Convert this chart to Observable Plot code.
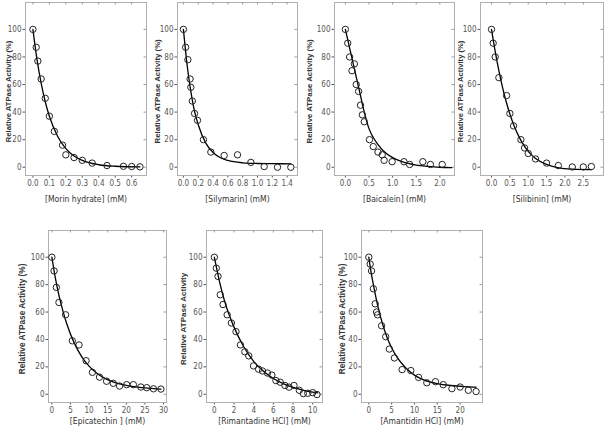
<!DOCTYPE html>
<html>
<head>
<meta charset="utf-8">
<script src="https://cdn.jsdelivr.net/npm/d3@7"></script>
<script src="https://cdn.jsdelivr.net/npm/@observablehq/plot@0.6"></script>
<style>
  html, body { margin: 0; padding: 0; background: white; }
  #chart { position: relative; width: 605px; height: 434px; overflow: hidden; background: white; }
</style>
</head>
<body>
<div id="chart"></div>
<script>
// ---------- data ----------
const yTicks = [0, 20, 40, 60, 80, 100];

const morinX = [0, 0.02, 0.03, 0.05, 0.075, 0.1, 0.13, 0.18, 0.2, 0.25, 0.3, 0.36, 0.45, 0.55, 0.6, 0.65];
const morinY = [100, 87, 77, 64, 50, 37, 26, 16, 9, 7, 5, 3, 1.2, 0.7, 0.5, 0.3];
const morinFitX = [0, 0.025, 0.05, 0.075, 0.1, 0.15, 0.2, 0.25, 0.3, 0.4, 0.5, 0.65];
const morinFitY = [100, 78, 61, 47.5, 37, 22.5, 13.5, 8.2, 5, 1.8, 0.7, 0.2];
const morinTicks = [0, 0.1, 0.2, 0.3, 0.4, 0.5, 0.6];

const silyX = [0, 0.03, 0.06, 0.09, 0.1, 0.12, 0.15, 0.19, 0.27, 0.37, 0.55, 0.73, 0.91, 1.09, 1.27, 1.45];
const silyY = [100, 87, 78, 64, 58, 48, 39, 34, 20, 11, 8.5, 9, 3.5, 0.5, 0, 0];
const silyFitX = [0, 0.05, 0.1, 0.15, 0.2, 0.3, 0.4, 0.5, 0.6, 0.8, 1.0, 1.2, 1.45];
const silyFitY = [100, 74, 55, 40.5, 30.8, 17.7, 10.7, 6.9, 4.9, 3.2, 2.7, 2.55, 2.5];
const silyTicks = [0, 0.2, 0.4, 0.6, 0.8, 1.0, 1.2, 1.4];

const baicX = [0, 0.05, 0.09, 0.14, 0.19, 0.23, 0.28, 0.32, 0.36, 0.4, 0.51, 0.59, 0.69, 0.78, 0.82, 0.99, 1.24, 1.36, 1.64, 1.8, 2.05];
const baicY = [100, 90, 80, 70, 75, 60, 55, 45, 38, 33, 20, 15, 11, 9, 5, 4, 4, 2, 4, 2, 2];
const baicFitX = [0, 0.1, 0.2, 0.3, 0.4, 0.5, 0.6, 0.7, 0.8, 1.0, 1.2, 1.5, 2.0, 2.25];
const baicFitY = [100, 85, 70, 55, 40, 28, 21, 16, 12, 7, 4, 1.5, 0, -0.3];
const baicTicks = [0, 0.5, 1.0, 1.5, 2.0];

const silibX = [0, 0.045, 0.1, 0.2, 0.41, 0.5, 0.6, 0.8, 0.9, 1.0, 1.2, 1.5, 1.82, 2.2, 2.5, 2.72];
const silibY = [100, 90, 80, 65, 52, 39, 30, 20, 14, 10, 6, 3, 1.2, 0.2, 0.2, 0.5];
const silibFitX = [0, 0.1, 0.2, 0.3, 0.4, 0.6, 0.8, 1.0, 1.2, 1.5, 1.8, 2.2, 2.72];
const silibFitY = [100, 84, 70, 58, 47.5, 31, 19.5, 11.5, 6.3, 2, -0.3, -1.4, -1.7];
const silibTicks = [0, 0.5, 1.0, 1.5, 2.0, 2.5];

const epiX = [0, 0.6, 1.2, 1.9, 3.7, 5.5, 7.3, 9.2, 10.9, 12.8, 14.7, 16.5, 18.2, 20.1, 21.9, 23.9, 25.5, 27.3, 29.3];
const epiY = [100, 90, 78, 67, 58, 39, 36, 24.5, 16, 12.5, 9.5, 8, 6, 7, 7, 5.3, 4.8, 4, 3.8];
const epiFitX = [0, 1, 2, 3, 4, 6, 8, 10, 12, 14, 17, 20, 25, 29.3];
const epiFitY = [100, 84, 71, 60.5, 51.5, 37.5, 27.5, 20.5, 15.5, 12, 8.5, 6.5, 4.6, 3.7];
const epiTicks = [0, 5, 10, 15, 20, 25, 30];

const rimX = [0, 0.2, 0.37, 0.6, 0.88, 1.3, 1.73, 2.2, 2.65, 3.1, 3.5, 3.98, 4.5, 4.9, 5.4, 5.85, 6.26, 6.7, 7.18, 7.6, 8.1, 8.64, 9.05, 9.5, 10, 10.44];
const rimY = [100, 92, 86, 72.6, 65.5, 58, 52, 45.7, 36, 31, 28, 20.7, 18.3, 17, 15.5, 14, 10, 8.8, 6.4, 5.2, 6.4, 2.9, 0.5, 0.7, 1.2, -0.2];
const rimFitX = [0, 0.5, 1, 1.5, 2, 3, 4, 5, 6, 7, 8, 9, 10, 10.5];
const rimFitY = [100, 83, 69, 58, 49, 34.5, 24, 16.8, 11.5, 7.8, 5, 3, 1.5, 1];
const rimTicks = [0, 2, 4, 6, 8, 10];

const amaX = [0, 0.3, 0.6, 1.0, 1.4, 1.7, 1.9, 2.8, 3.7, 4.5, 5.6, 7.3, 9.2, 10.9, 12.7, 14.6, 16.3, 18.2, 20, 21.8, 23.5];
const amaY = [100, 95, 90, 77, 66, 60, 58, 50, 42, 33, 26.5, 18, 17.3, 12.3, 8.4, 9.2, 7, 4.1, 5.3, 2.9, 2];
const amaFitX = [0, 0.5, 1, 2, 3, 4, 5, 6, 8, 10, 12, 15, 18, 21, 23.5];
const amaFitY = [100, 89, 80, 64, 51.5, 41.5, 34, 28, 19.5, 14, 10.5, 7.8, 6.4, 5.6, 5.2];
const amaTicks = [0, 5, 10, 15, 20];

const xLabels = ["[Morin hydrate] (mM)", "[Silymarin] (mM)", "[Baicalein] (mM)", "[Silibinin] (mM)",
                 "[Epicatechin ] (mM)", "[Rimantadine HCl] (mM)", "[Amantidin HCl] (mM)"];
const yLabelPct = "Relative ATPase Activity (%)";
const yLabelPlain = "Relative ATPase Activity";

// ---------- layout (page pixels) ----------
const W = 605, H = 434;
const panels = [
  {xs: morinX, ys: morinY, fx: morinFitX, fy: morinFitY, ticks: morinTicks, fmt: ".1f", xDomain: [-0.045, 0.69], xLabel: xLabels[0], yLabel: yLabelPct, box: [25, 146, 2, 175], ylDx: -17, ylSize: 7.6, xlDy: 26.5},
  {xs: silyX, ys: silyY, fx: silyFitX, fy: silyFitY, ticks: silyTicks, fmt: ".1f", xDomain: [-0.08, 1.54], xLabel: xLabels[1], yLabel: yLabelPct, box: [177, 297, 2, 175], ylDx: -20, ylSize: 7.8, xlDy: 26.5},
  {xs: baicX, ys: baicY, fx: baicFitX, fy: baicFitY, ticks: baicTicks, fmt: ".1f", xDomain: [-0.23, 2.31], xLabel: xLabels[2], yLabel: yLabelPct, box: [334, 454, 2, 175], ylDx: -25, ylSize: 7.8, xlDy: 26.5},
  {xs: silibX, ys: silibY, fx: silibFitX, fy: silibFitY, ticks: silibTicks, fmt: ".1f", xDomain: [-0.3, 3.05], xLabel: xLabels[3], yLabel: yLabelPct, box: [480, 603, 2, 175], ylDx: -20, ylSize: 7.6, xlDy: 26.5},
  {xs: epiX, ys: epiY, fx: epiFitX, fy: epiFitY, ticks: epiTicks, fmt: "d", xDomain: [-0.9, 30.8], xLabel: xLabels[4], yLabel: yLabelPct, box: [48, 166, 230, 402], ylDx: -26, ylSize: 8.3, xlDy: 21},
  {xs: rimX, ys: rimY, fx: rimFitX, fy: rimFitY, ticks: rimTicks, fmt: "d", xDomain: [-0.8, 11], xLabel: xLabels[5], yLabel: yLabelPlain, box: [206, 322, 230, 402], ylDx: -23, ylSize: 8.0, xlDy: 21},
  {xs: amaX, ys: amaY, fx: amaFitX, fy: amaFitY, ticks: amaTicks, fmt: "d", xDomain: [-1.6, 24.9], xLabel: xLabels[6], yLabel: yLabelPct, box: [361, 482, 230, 402], ylDx: -19, ylSize: 8.3, xlDy: 21}
];

const narrow = "'Liberation Sans Narrow', 'Arial Narrow', 'DejaVu Sans Condensed', sans-serif";
const chart = document.getElementById("chart");

for (const p of panels) {
  const [l, r, t, b] = p.box;
  const frameW = r - l, frameH = b - t;
  const pts = p.xs.map((x, i) => ({x, y: p.ys[i]}));
  const fit = p.fx.map((x, i) => ({x, y: p.fy[i]}));
  const svg = Plot.plot({
    width: W, height: H,
    marginLeft: l, marginRight: W - r, marginTop: t, marginBottom: H - b,
    style: {position: "absolute", left: "0px", top: "0px", background: "none", overflow: "visible",
            fontFamily: narrow, fontSize: "8px", color: "#555"},
    x: {domain: p.xDomain, ticks: p.ticks, tickFormat: d3.format(p.fmt), tickSize: 2.5, tickPadding: 2, label: null},
    y: {domain: [-6, 119.5], ticks: yTicks, tickSize: 2.5, tickPadding: 1.5, label: null},
    marks: [
      Plot.frame({stroke: "#b0b0b0"}),
      Plot.ruleX(p.ticks, {stroke: "#999", insetBottom: frameH - 2.5}),
      Plot.ruleY(yTicks, {stroke: "#999", insetLeft: frameW - 2.5}),
      Plot.line(fit, {x: "x", y: "y", curve: "monotone-x", stroke: "black", strokeWidth: 1.3}),
      Plot.dot(pts, {x: "x", y: "y", r: 3.2, stroke: "#222", strokeWidth: 1, fill: "none"}),
      Plot.text([p.yLabel], {text: d => d, y: () => 55, frameAnchor: "left", textAnchor: "middle", dx: p.ylDx, rotate: -90,
        fontFamily: "'Liberation Sans', Arial, sans-serif", fontWeight: "bold", fontSize: p.ylSize, fill: "#333"}),
      Plot.text([p.xLabel], {text: d => d, frameAnchor: "bottom", dy: p.xlDy,
        fontFamily: narrow, fontSize: 8.5, fill: "#333"})
    ]
  });
  chart.appendChild(svg);
}
</script>
</body>
</html>
